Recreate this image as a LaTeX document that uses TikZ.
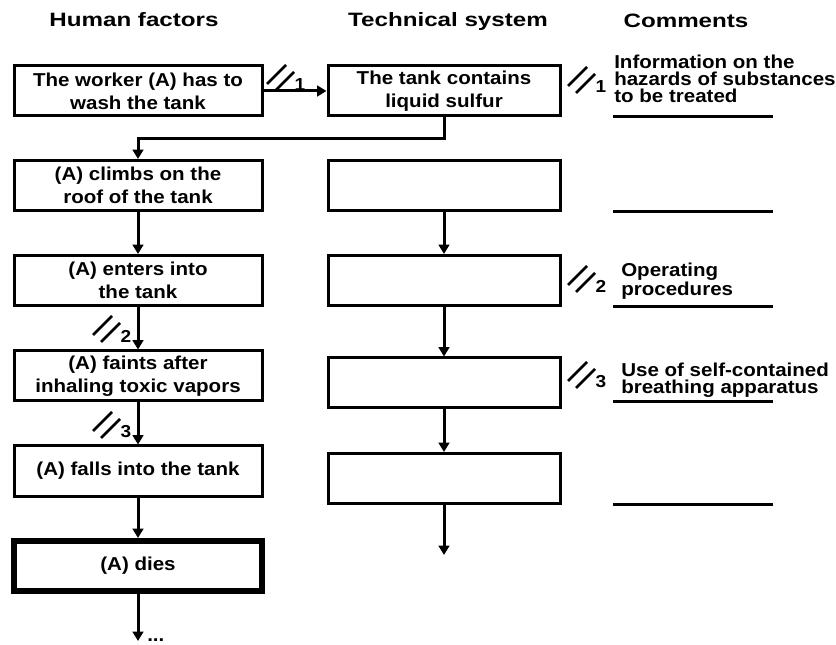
\documentclass[tikz,border=0pt]{standalone}
\usepackage{fontspec}
\setmainfont{Liberation Sans}[FakeStretch=1.1]
\newfontfamily\headfont{Liberation Sans}[FakeStretch=1.25]
\usetikzlibrary{arrows.meta}

\tikzset{
	box/.style={draw, line width=2.25pt, minimum width=186pt, minimum height=37.5pt,
		inner sep=0pt, align=center, font=\fontsize{14}{17}\selectfont\bfseries},
	tbox/.style={box, minimum width=174pt},
	endbox/.style={box, line width=4.5pt},
	arr/.style={line width=2.25pt, -{Triangle[width=8pt,length=7pt]}},
	head/.style={anchor=base, inner sep=0pt, font=\headfont\fontsize{14.5}{17}\selectfont\bfseries},
	cmt/.style={anchor=north west, inner sep=0pt, align=left,
		font=\fontsize{14}{12.8}\selectfont\bfseries},
	rule/.style={line width=2.25pt},
	slash/.style={line width=2pt},
}

% zwei Schraegstriche mit Nummer: x, y, Nummer
\newcommand{\slashmark}[3]{%
	\draw[slash] (#1,#2) -- ++(19,-19);
	\draw[slash] (#1+8,#2+7) -- ++(19,-19);
	\node[inner sep=0pt, font=\fontsize{13}{13}\selectfont\bfseries] at (#1+33,#2+1) {#3};
}

\begin{document}
\begin{tikzpicture}[x=0.75pt, y=-0.75pt]
	\useasboundingbox (0,0) rectangle (836,645);
	% Spaltenkoepfe
	\node[head] (hhum) at (134,27) {Human factors};
	\node[head] (htec) at (448,27) {Technical system};
	\node[head] (hcom) at (686,28) {Comments};
	% Human factors
	\node[box] (A1) at (138,91) {The worker (A) has to\\wash the tank};
	\node[box] (A2) at (138,185.5) {(A) climbs on the\\roof of the tank};
	\node[box] (A3) at (138,280.5) {(A) enters into\\the tank};
	\node[box] (A4) at (138,376) {(A) faints after\\inhaling toxic vapors};
	\node[box] (A5) at (138,471) {(A) falls into the tank};
	\node[endbox] (A6) at (138,566) {(A) dies};
	\coordinate (Aend) at (138,641);
	\node[anchor=base west, inner sep=0pt, font=\fontsize{14}{17}\selectfont\bfseries] (dots) at (147,641) {...};
	% Technical system
	\node[tbox] (T1) at (444,91) {The tank contains\\liquid sulfur};
	\node[tbox] (T2) at (444,185.5) {};
	\node[tbox] (T3) at (444,280.5) {};
	\node[tbox] (T4) at (444,383) {};
	\node[tbox] (T5) at (444,478.5) {};
	\coordinate (Tend) at (444,555);
	% Pfeile
	\draw[arr] (A1) -- (T1);
	\draw[arr] (T1.south) -- ++(0,21) -| (A2.north);
	\draw[arr] (A2) -- (A3);
	\draw[arr] (A3) -- (A4);
	\draw[arr] (A4) -- (A5);
	\draw[arr] (A5) -- (A6);
	\draw[arr] (A6) -- (Aend);
	\draw[arr] (T2) -- (T3);
	\draw[arr] (T3) -- (T4);
	\draw[arr] (T4) -- (T5);
	\draw[arr] (T5) -- (Tend);
	% Kommentare
	\node[cmt] (c1) at (614,55) {Information on the\\hazards of substances\\to be treated};
	\node[cmt] (c2) at (621,263) {Operating\\procedures};
	\node[cmt] (c3) at (621,363) {Use of self-contained\\breathing apparatus};
	\foreach \y in {117,212,307,402,504}
		\draw[rule] (613,\y) -- (773,\y);
	% Schraegstriche
	\slashmark{267}{84}{1}
	\slashmark{568}{86}{1}
	\slashmark{568}{285}{2}
	\slashmark{568}{381}{3}
	\slashmark{93}{335}{2}
	\slashmark{93}{431}{3}
\end{tikzpicture}
\end{document}
